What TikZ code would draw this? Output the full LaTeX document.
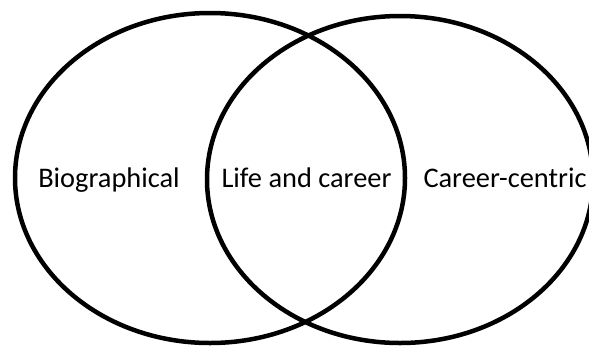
\documentclass[tikz,border=0pt]{standalone}
\usepackage{fontspec}
\setmainfont{Carlito}
\usetikzlibrary{positioning}

\begin{document}
\begin{tikzpicture}[x=1bp,y=-1bp,font=\fontsize{28.5}{32}\selectfont]
\tikzset{
  setline/.style={line width=4.5bp,draw=black},
  setlabel/.style={anchor=base,inner sep=0pt}
}
\useasboundingbox (0,0) rectangle (589,347);
% the two sets
\draw[setline] (210,178) ellipse [x radius=195, y radius=165];
\draw[setline] (400,179.5) ellipse [x radius=193, y radius=163.5];
% labels
\node[setlabel] (bio) at (109,187.5) {Biographical};
\node[setlabel] (both) at (306.5,187.5) {Life and career};
\node[setlabel] (career) at (505,187.5) {Career-centric};
\end{tikzpicture}
\end{document}
